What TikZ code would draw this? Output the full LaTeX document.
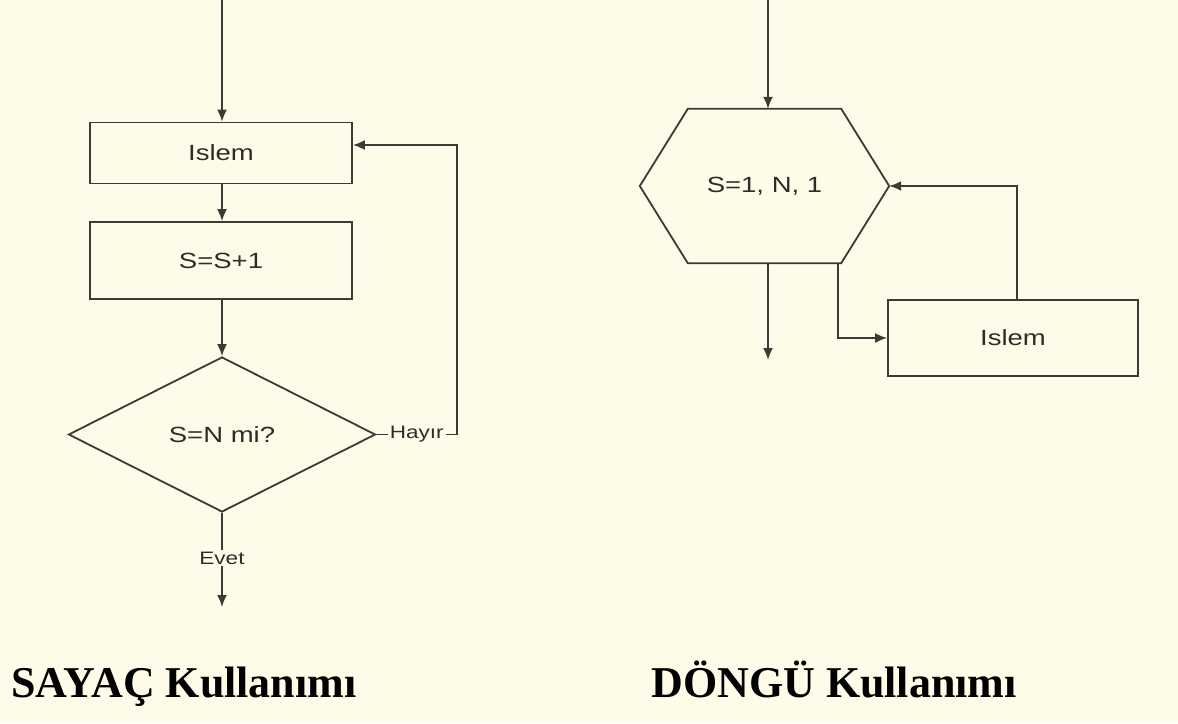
\documentclass[tikz,border=0pt]{standalone}
\usepackage{fontspec}
\usepackage{graphicx}
\setmainfont{Liberation Serif}
\setsansfont{Liberation Sans}
\usetikzlibrary{shapes.geometric,arrows.meta,calc}
\definecolor{paper}{HTML}{FEFCE8}
\definecolor{ink}{HTML}{3C3A36}
\definecolor{txt}{HTML}{2E2C28}
\tikzset{
  x=1pt,y=-1pt,
  line/.style={draw=ink,line width=1.8pt},
  arr/.style={line,-{Latex[length=12pt,width=10pt]}},
  procbox/.style={draw=ink,line width=1.8pt,rectangle,inner sep=0pt},
  ftext/.style={text=txt,font=\sffamily\fontsize{22}{26}\selectfont},
  lab/.style={text=txt,font=\sffamily\fontsize{18}{21}\selectfont,fill=paper,inner sep=2pt},
  title/.style={text=black,font=\bfseries\fontsize{44}{50}\selectfont,anchor=base}
}
\newcommand{\wide}[1]{\scalebox{1.25}[1]{#1}}
\begin{document}
\begin{tikzpicture}
\fill[paper] (0,0) rectangle (1178,723);
\useasboundingbox (0,0) rectangle (1178,723);
% ---------- left: SAYAC ----------
\coordinate (ltop) at (222,0);
\node[procbox,ftext,minimum width=262pt,minimum height=61pt] (islem1) at (221,153) {\wide{Islem}};
\node[procbox,ftext,minimum width=262pt,minimum height=77pt] (sinc) at (221,260.5) {\wide{S=S+1}};
\node[draw=ink,line width=1.8pt,diamond,aspect=1.98,minimum width=307pt,minimum height=155pt,inner sep=0pt,ftext] (dec) at (222,434.5) {\wide{S=N mi?}};
\coordinate (lbot) at (222,607);
\coordinate (hr) at (457,434.5);
\coordinate (hu) at (457,145);
\draw[arr] (ltop) -- (ltop |- islem1.north);
\draw[arr] (islem1.south -| ltop) -- (sinc.north -| ltop);
\draw[arr] (sinc.south -| ltop) -- (dec.north);
\draw[arr] (dec.south) -- node[lab,pos=0.48]{\wide{Evet}} (lbot);
\draw[line] (dec.east) -- node[lab,pos=0.5]{\wide{Hayır}} (hr);
\draw[arr] (hr) -- (hu) -- (hu -| islem1.east);
% ---------- right: DONGU ----------
\coordinate (rtop) at (768,0);
\node[minimum width=249pt,minimum height=154pt,inner sep=0pt,ftext] (hex) at (764.5,186) {\wide{S=1, N, 1}};
\draw[line,line join=miter] (hex.west) -- ($(hex.north west)+(48,0)$) -- ($(hex.north east)+(-48,0)$) -- (hex.east) -- ($(hex.south east)+(-48,0)$) -- ($(hex.south west)+(48,0)$) -- cycle;
\node[procbox,ftext,minimum width=250pt,minimum height=76pt] (islem2) at (1013,338) {\wide{Islem}};
\coordinate (rbot) at (768,360);
\coordinate (hd) at (838,263);
\coordinate (up) at (1017,186);
\draw[arr] (rtop) -- (rtop |- hex.north);
\draw[arr] (hex.south -| rtop) -- (rbot);
\draw[arr] (hd) |- (islem2.west);
\draw[arr] (islem2.north -| up) -- (up) -- (hex.east);
% ---------- titles ----------
\node[title] (t1) at (184,697) {SAYAÇ Kullanımı};
\node[title] (t2) at (834,697) {DÖNGÜ Kullanımı};
\end{tikzpicture}
\end{document}
